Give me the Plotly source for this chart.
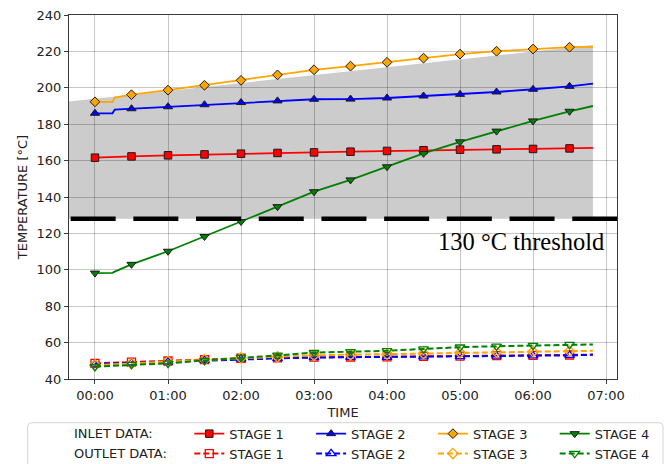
import plotly.graph_objects as go

# ---------------- data ----------------
LINE_T = [0, 0.24, 0.27, 0.5, 1.0, 1.5, 2.0, 2.5, 3.0, 3.5, 4.0, 4.5, 5.0, 5.5, 6.0, 6.5, 6.82]
MARKER_FLAG = [1, 0, 0, 1, 1, 1, 1, 1, 1, 1, 1, 1, 1, 1, 1, 1, 0]

STAGES = ["STAGE 1", "STAGE 2", "STAGE 3", "STAGE 4"]

INLET_S1 = [161.6, 161.8, 161.9, 162.3, 162.9, 163.4, 163.8, 164.2, 164.5, 164.9, 165.3, 165.7, 166.0, 166.2, 166.4, 166.7, 167.0]
INLET_S2 = [186.0, 186.0, 188.0, 188.5, 189.6, 190.7, 191.9, 192.8, 193.7, 193.8, 194.4, 195.5, 196.4, 197.7, 199.2, 200.8, 202.3]
INLET_S3 = [192.3, 192.3, 194.6, 196.2, 198.7, 201.4, 204.1, 207.1, 209.9, 211.9, 214.0, 216.3, 218.5, 220.1, 221.3, 222.3, 222.5]
INLET_S4 = [98.2, 98.3, 99.0, 103.0, 110.2, 118.3, 126.5, 134.7, 142.9, 149.4, 156.6, 164.0, 170.3, 176.2, 181.8, 187.1, 190.0]

OUTLET_S1 = [48.6, 48.9, 49.0, 49.3, 49.9, 50.6, 51.4, 51.6, 52.0, 52.1, 52.2, 52.4, 52.6, 52.8, 53.0, 53.2, 53.4]
OUTLET_S2 = [48.2, 48.5, 48.6, 48.9, 49.4, 50.3, 51.0, 51.3, 51.8, 51.9, 52.0, 52.2, 52.4, 52.6, 52.8, 53.0, 53.3]
OUTLET_S3 = [47.7, 48.0, 48.1, 48.5, 49.6, 50.6, 51.6, 52.2, 53.0, 53.3, 53.6, 54.0, 54.5, 54.8, 55.0, 55.3, 55.5]
OUTLET_S4 = [46.8, 47.2, 47.3, 48.0, 48.6, 50.2, 51.8, 53.0, 54.5, 55.0, 55.5, 56.5, 57.5, 58.0, 58.4, 58.9, 59.0]

THRESHOLD = 128
THRESHOLD_LABEL = "130 °C threshold"
BAND_T = [-0.5, 6.82]
BAND_TOP = [191.8, 223.5]

X_TICKS = [0, 1, 2, 3, 4, 5, 6, 7]
X_TICK_TEXT = ["00:00", "01:00", "02:00", "03:00", "04:00", "05:00", "06:00", "07:00"]
Y_TICKS = [40, 60, 80, 100, 120, 140, 160, 180, 200, 220, 240]

# ---------------- style ----------------
COLORS = ["#ff0000", "#0000ff", "#ffa500", "#008000"]
IN_SYMBOLS = ["square", "triangle-up", "diamond", "triangle-down"]
OUT_SYMBOLS = ["square-open", "triangle-up-open", "diamond-open", "triangle-down-open"]
IN_SIZES = [7.5, 8, 7.5, 8]
OUT_SIZES = [8, 8.5, 8, 8.5]
CLEAR = "rgba(0,0,0,0)"
FONT = "DejaVu Sans"
TXT = "#222222"

fig = go.Figure()

inlet = [INLET_S1, INLET_S2, INLET_S3, INLET_S4]
outlet = [OUTLET_S1, OUTLET_S2, OUTLET_S3, OUTLET_S4]

for i, vals in enumerate(inlet):
    fig.add_trace(go.Scatter(
        x=LINE_T, y=vals, mode="lines+markers", name=STAGES[i],
        line=dict(color=COLORS[i], width=1.8),
        marker=dict(symbol=IN_SYMBOLS[i], size=IN_SIZES[i],
                    color=[COLORS[i] if f else CLEAR for f in MARKER_FLAG],
                    line=dict(color=["#1a1a1a" if f else CLEAR for f in MARKER_FLAG], width=1)),
    ))

for i, vals in enumerate(outlet):
    fig.add_trace(go.Scatter(
        x=LINE_T, y=vals, mode="lines+markers", name=STAGES[i],
        line=dict(color=COLORS[i], width=2, dash="6px,3px"),
        marker=dict(symbol=OUT_SYMBOLS[i], size=OUT_SIZES[i],
                    color=[COLORS[i] if f else CLEAR for f in MARKER_FLAG],
                    line=dict(width=1.3)),
    ))

# grey band above threshold
band_path = (f"M {BAND_T[0]},{THRESHOLD} L {BAND_T[0]},{BAND_TOP[0]} "
             f"L {BAND_T[1]},{BAND_TOP[1]} L {BAND_T[1]},{THRESHOLD} Z")
fig.add_shape(type="path", path=band_path, xref="x", yref="y",
              fillcolor="#cccccc", line=dict(width=0), layer="below")

# threshold dashed line
fig.add_shape(type="line", xref="x domain", yref="y", x0=0.003, x1=1, y0=THRESHOLD, y1=THRESHOLD,
              line=dict(color="black", width=4.5, dash="45px,17.7px"), layer="above")

fig.add_annotation(x=7.0, y=115.5, xref="x", yref="y", text=THRESHOLD_LABEL,
                   showarrow=False, xanchor="right", yanchor="middle",
                   font=dict(family="Liberation Serif", size=24.5, color="black"))

# legend frame + headers
PW, PH = 548.0, 364.0
def px2paper(xp, yp):
    return (xp - 69) / PW, (379 - yp) / PH

x0, y0 = px2paper(27.7, 422.7)
x1, y1 = px2paper(663, 480)
rx, ry = 4 / PW, 4 / PH
frame = (f"M {x0+rx},{y0} L {x1-rx},{y0} Q {x1},{y0} {x1},{y0-ry} L {x1},{y1} "
         f"L {x0},{y1} L {x0},{y0-ry} Q {x0},{y0} {x0+rx},{y0} Z")
fig.add_shape(type="path", path=frame, xref="paper", yref="paper",
              fillcolor="white", line=dict(color="#d4d4d4", width=1), layer="below")

hx, hy1 = px2paper(71.7, 433.7)
_, hy2 = px2paper(71.7, 453.7)
for txt, yy in (("INLET DATA:", hy1), ("OUTLET DATA:", hy2)):
    fig.add_annotation(x=hx, y=yy, xref="paper", yref="paper", text=txt, showarrow=False,
                       xanchor="left", yanchor="middle", font=dict(family=FONT, size=13, color=TXT))

lx, ly = px2paper(189.3, 418.7)

axis_common = dict(
    showline=True, mirror=True, linecolor="#3a3a3a", linewidth=1.3,
    ticks="outside", ticklen=4, tickwidth=1.2, tickcolor="#3a3a3a",
    showgrid=True, gridcolor="rgba(0,0,0,0.22)", gridwidth=1.4, zeroline=False,
    tickfont=dict(family=FONT, size=13, color=TXT),
)

fig.update_layout(
    width=666, height=464,
    margin=dict(l=69, r=49, t=15, b=85, autoexpand=False),
    paper_bgcolor="white", plot_bgcolor="white",
    font=dict(family=FONT, size=13, color=TXT),
    xaxis=dict(range=[-0.356, 7.15], tickvals=X_TICKS, ticktext=X_TICK_TEXT,
               title=dict(text="TIME", font=dict(family=FONT, size=13, color=TXT), standoff=6),
               **axis_common),
    yaxis=dict(range=[40, 240], tickvals=Y_TICKS,
               title=dict(text="TEMPERATURE [°C]", font=dict(family=FONT, size=13, color=TXT), standoff=5),
               **axis_common),
    legend=dict(orientation="h", x=lx, y=ly, xanchor="left", yanchor="top",
                bgcolor=CLEAR, borderwidth=0, entrywidth=76.8, entrywidthmode="pixels",
                font=dict(family=FONT, size=13, color=TXT), traceorder="normal"),
    showlegend=True,
)

fig.write_html("out.html")
